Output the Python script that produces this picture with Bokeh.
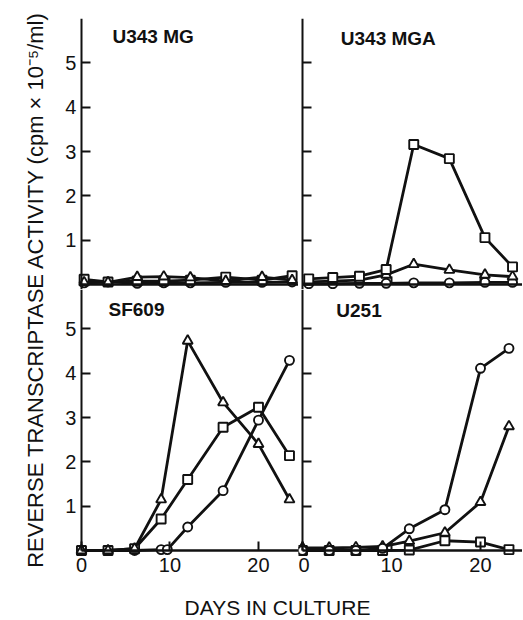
import math
from bokeh.plotting import figure
from bokeh.layouts import row, column
from bokeh.models import Range1d, LinearAxis, FixedTicker, Label
from bokeh.embed import file_html
from bokeh.resources import INLINE

# ---------------- data ----------------
y_ticks = [1, 2, 3, 4, 5]
x_ticks = [0, 10, 20]

# U343 MG
mg_days = [0.3, 3.0, 6.3, 9.3, 12.3, 16.3, 20.4, 23.8]
mg_circle = [0.04, 0.06, 0.03, 0.04, 0.04, 0.05, 0.05, 0.06]
mg_triangle = [0.05, 0.05, 0.17, 0.18, 0.16, 0.08, 0.17, 0.10]
mg_square = [0.12, 0.06, 0.08, 0.08, 0.10, 0.17, 0.10, 0.20]

# U343 MGA
mga_days = [0.7, 3.4, 6.4, 9.4, 12.5, 16.5, 20.5, 23.6]
mga_circle = [0.02, 0.02, 0.03, 0.03, 0.04, 0.04, 0.05, 0.05]
mga_triangle = [0.06, 0.08, 0.10, 0.22, 0.46, 0.33, 0.22, 0.18]
mga_square = [0.13, 0.16, 0.19, 0.34, 3.16, 2.84, 1.06, 0.40]

# SF609
sf_days = [0, 3, 6, 9, 12, 16, 20, 23.5]
sf_circle_days = [0, 3, 6, 9, 9.7, 12, 16, 20, 23.5]
sf_circle = [0.0, 0.0, 0.0, 0.02, 0.02, 0.53, 1.35, 2.94, 4.29]
sf_triangle = [0.0, 0.0, 0.04, 1.15, 4.73, 3.34, 2.40, 1.15]
sf_square = [0.0, 0.0, 0.04, 0.71, 1.60, 2.78, 3.23, 2.14]

# U251
u_days = [0, 3, 6, 9, 12, 16, 20, 23.2]
u_circle = [0.0, 0.0, 0.0, 0.05, 0.49, 0.92, 4.11, 4.56]
u_triangle = [0.06, 0.06, 0.07, 0.09, 0.21, 0.40, 1.09, 2.80]
u_square = [0.0, 0.0, 0.0, 0.0, 0.01, 0.22, 0.19, 0.02]

titles = ["U343 MG", "U343 MGA", "SF609", "U251"]
x_title = "DAYS IN CULTURE"
y_title = "REVERSE TRANSCRIPTASE ACTIVITY (cpm \u00d7 10\u207b\u2075/ml)"

# ---------------- styling ----------------
FONT = "Liberation Sans"
INK = "#111111"

LEFT_X = (-2.37, 24.52)
RIGHT_X = (-0.45, 24.72)
TOP_Y = (-0.11, 6.0)
BOT_Y = (-0.677, 5.888)


def make_panel(width, height, xr, yr, mb, top, left):
    p = figure(width=width, height=height, x_range=Range1d(*xr), y_range=Range1d(*yr),
               x_axis_location=None, y_axis_location=None, toolbar_location=None,
               output_backend="svg",
               min_border_left=mb[0], min_border_right=mb[1],
               min_border_top=mb[2], min_border_bottom=mb[3])
    p.outline_line_color = None
    p.grid.visible = False
    p.background_fill_color = "white"
    p.border_fill_color = "white"

    # y axis drawn at day 0
    ya = LinearAxis(fixed_location=0, ticker=FixedTicker(ticks=y_ticks),
                    major_tick_in=9, major_tick_out=0, minor_tick_in=0, minor_tick_out=0,
                    axis_line_width=2, axis_line_color=INK,
                    major_tick_line_width=2, major_tick_line_color=INK)
    if left:
        ya.major_label_text_font = FONT
        ya.major_label_text_font_size = "20px"
        ya.major_label_text_color = INK
        ya.major_label_standoff = 5
    else:
        ya.major_label_text_font_size = "0px"
        ya.major_label_text_color = None
        ya.major_label_standoff = 0
    if top:
        ya.bounds = (yr[0], 10)
    else:
        ya.bounds = (0, 10)
    p.add_layout(ya, "left")

    # x axis drawn at value 0
    if top:
        xa = LinearAxis(fixed_location=0, ticker=FixedTicker(ticks=[10, 20]),
                        major_tick_in=0, major_tick_out=8, minor_tick_in=0, minor_tick_out=0,
                        major_label_text_font_size="0px", major_label_text_color=None,
                        major_label_standoff=0,
                        axis_line_width=2.5, axis_line_color=INK,
                        major_tick_line_width=2, major_tick_line_color=INK,
                        bounds=(0, xr[1]))
        p.add_layout(xa, "above")
    else:
        xa = LinearAxis(fixed_location=0, ticker=FixedTicker(ticks=x_ticks),
                        major_tick_in=9, major_tick_out=0, minor_tick_in=0, minor_tick_out=0,
                        major_label_text_font=FONT, major_label_text_font_size="20px",
                        major_label_text_color=INK, major_label_standoff=8,
                        axis_line_width=2.5, axis_line_color=INK,
                        major_tick_line_width=2, major_tick_line_color=INK,
                        bounds=(0, xr[1]))
        p.add_layout(xa, "below")
    return p


def add_series(p, x, y, marker):
    p.line(x, y, line_width=2.8, line_color=INK)
    size = 10 if marker == "triangle" else 9
    p.scatter(x, y, marker=marker, size=size, fill_color="white",
              line_color=INK, line_width=1.9)


def add_title(p, text, x, y):
    p.add_layout(Label(x=x, y=y, text=text, text_font=FONT, text_font_size="19px",
                       text_font_style="bold", text_color=INK,
                       text_align="left", text_baseline="middle"))


tl = make_panel(248, 289, LEFT_X, TOP_Y, (10, 0, 18, 0), top=True, left=True)
tr = make_panel(224, 289, RIGHT_X, TOP_Y, (0, 0, 18, 0), top=True, left=False)
bl = make_panel(248, 291, LEFT_X, BOT_Y, (10, 0, 0, 0), top=False, left=True)
br = make_panel(224, 291, RIGHT_X, BOT_Y, (0, 0, 0, 0), top=False, left=False)

add_series(tl, mg_days, mg_circle, "circle")
add_series(tl, mg_days, mg_square, "square")
add_series(tl, mg_days, mg_triangle, "triangle")

add_series(tr, mga_days, mga_circle, "circle")
add_series(tr, mga_days, mga_triangle, "triangle")
add_series(tr, mga_days, mga_square, "square")

add_series(bl, sf_circle_days, sf_circle, "circle")
add_series(bl, sf_days, sf_square, "square")
add_series(bl, sf_days, sf_triangle, "triangle")

add_series(br, u_days, u_square, "square")
add_series(br, u_days, u_triangle, "triangle")
add_series(br, u_days, u_circle, "circle")

add_title(tl, titles[0], 3.5, 5.59)
add_title(tr, titles[1], 4.3, 5.55)
add_title(bl, titles[2], 3.05, 5.44)
add_title(br, titles[3], 3.8, 5.42)

# y-axis title (left strip)
TOTAL_H = 289 + 291 + 40
ylab = figure(width=50, height=TOTAL_H, x_range=Range1d(0, 50), y_range=Range1d(0, TOTAL_H),
              x_axis_location=None, y_axis_location=None, toolbar_location=None,
              output_backend="svg", min_border=0)
ylab.outline_line_color = None
ylab.grid.visible = False
ylab.add_layout(Label(x=35, y=TOTAL_H - 289, text=y_title, angle=math.pi / 2,
                      text_font=FONT, text_font_size="22px", text_color=INK,
                      text_align="center", text_baseline="middle"))

# x-axis title (bottom strip)
xlab = figure(width=472, height=40, x_range=Range1d(0, 472), y_range=Range1d(0, 40),
              x_axis_location=None, y_axis_location=None, toolbar_location=None,
              output_backend="svg", min_border=0)
xlab.outline_line_color = None
xlab.grid.visible = False
xlab.add_layout(Label(x=227, y=13, text=x_title,
                      text_font=FONT, text_font_size="21px", text_color=INK,
                      text_align="center", text_baseline="middle"))

layout = row(ylab, column(row(tl, tr), row(bl, br), xlab))

open("out.html", "w").write(file_html(layout, INLINE))
